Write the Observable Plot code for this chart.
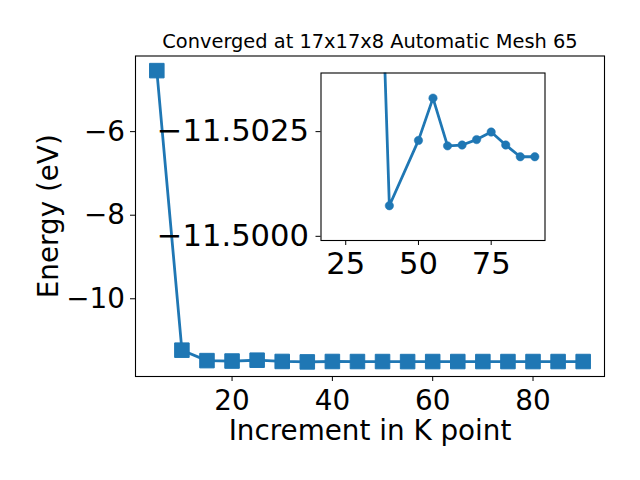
<!DOCTYPE html>
<html><head><meta charset="utf-8">
<script src="https://cdn.jsdelivr.net/npm/d3@7"></script>
<script src="https://cdn.jsdelivr.net/npm/@observablehq/plot@0.6"></script>
<style>
body{margin:0;background:#fff;}
#wrap{position:relative;width:640px;height:480px;font-family:"DejaVu Sans",sans-serif;}
#wrap svg{position:absolute;left:0;top:0;}
</style></head><body><div id="wrap"></div>
<script>
// Main series: energy vs k-point increment
const kpoints = [5,10,15,20,25,30,35,40,45,50,55,60,65,70,75,80,85,90];
const energies = [-4.54,-11.23,-11.48,-11.49,-11.47,-11.50,-11.511,-11.50073,-11.502,-11.50229,-11.5033,-11.50216,-11.50218,-11.50231,-11.50249,-11.50218,-11.5019,-11.5019];
// Inset series (zoom)
const insetK = [35,40,50,55,60,65,70,75,80,85,90];
const insetE = [-11.5113,-11.50073,-11.50229,-11.5033,-11.50216,-11.50218,-11.50231,-11.50249,-11.50218,-11.5019,-11.5019];
// Ticks
const xTicks = [20,40,60,80];
const yTicks = [-10,-8,-6];
const insetXTicks = [25,50,75];
const insetYTicks = [-11.5025,-11.5000];
// Texts
const title = "Converged at 17x17x8 Automatic Mesh 65";
const xLabel = "Increment in K point";
const yLabel = "Energy (eV)";

const blue = "#1f77b4";
const main = kpoints.map((k,i)=>({k, e: energies[i]}));
const inset = insetK.map((k,i)=>({k, e: insetE[i]}));
const fmtInt = d3.format("");
const fmt4 = d3.format(".4f");

const mainPlot = Plot.plot({
  width:640, height:480,
  marginLeft:135, marginRight:36, marginTop:55.5, marginBottom:104,
  style:{fontFamily:"DejaVu Sans", color:"black", background:"transparent", overflow:"visible"},
  x:{domain:[0.75,94.25]},
  y:{domain:[-11.86,-4.19]},
  marks:[
    Plot.axisX({ticks:xTicks, tickSize:5, tickPadding:9, fontSize:27.8, label:null, tickFormat:fmtInt}),
    Plot.axisY({ticks:yTicks, tickSize:5, tickPadding:5.5, fontSize:27.8, label:null, tickFormat:fmtInt}),
    Plot.frame({stroke:"black", strokeWidth:1.1}),
    Plot.line(main,{x:"k", y:"e", stroke:blue, strokeWidth:2.78}),
    Plot.dot(main,{x:"k", y:"e", symbol:"square", r:8.2, fill:blue, stroke:blue, strokeWidth:1}),
    Plot.text([title],{frameAnchor:"top", dy:-14.6, fontSize:19.4, text:d=>d, lineAnchor:"middle", textAnchor:"middle"}),
    Plot.text([xLabel],{frameAnchor:"bottom", dy:55, fontSize:27.8, text:d=>d, lineAnchor:"middle", textAnchor:"middle"}),
    Plot.text([yLabel],{frameAnchor:"left", dx:-86.7, rotate:-90, fontSize:27.8, text:d=>d, lineAnchor:"middle", textAnchor:"middle"})
  ]
});

const insetPlot = Plot.plot({
  width:640, height:480,
  marginLeft:320.5, marginRight:95.5, marginTop:72.5, marginBottom:240,
  style:{fontFamily:"DejaVu Sans", color:"black", background:"transparent", overflow:"visible"},
  x:{domain:[16.5,93.5]},
  y:{domain:[-11.4999,-11.5039]},
  marks:[
    Plot.frame({fill:"white"}),
    Plot.axisX({ticks:insetXTicks, tickSize:5, tickPadding:6.7, fontSize:30.6, label:null, tickFormat:fmtInt}),
    Plot.axisY({ticks:insetYTicks, tickSize:5, tickPadding:7, fontSize:30.6, label:null, tickFormat:fmt4}),
    Plot.line(inset,{x:"k", y:"e", stroke:blue, strokeWidth:2.78, clip:true}),
    Plot.dot(inset,{x:"k", y:"e", r:4.2, fill:blue, stroke:blue, strokeWidth:0.5, clip:true}),
    Plot.frame({stroke:"black", strokeWidth:1.1})
  ]
});

const wrap = document.getElementById("wrap");
wrap.appendChild(mainPlot);
wrap.appendChild(insetPlot);
</script>
</body></html>
